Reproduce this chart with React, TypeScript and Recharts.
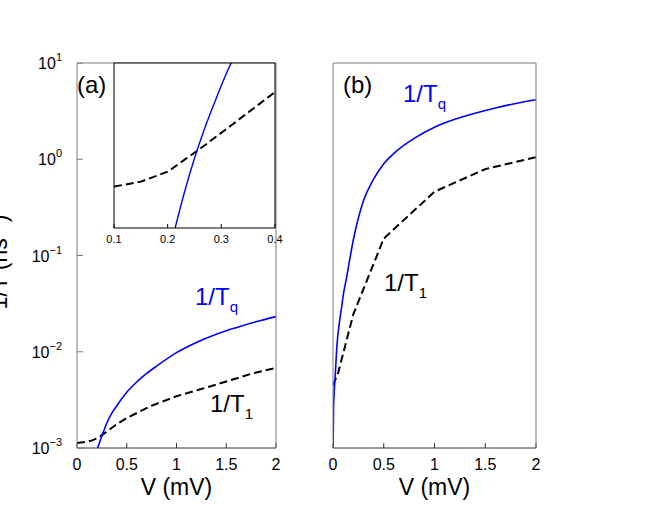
import React from "react";
import { LineChart, Line, XAxis, YAxis, CartesianGrid } from "recharts";

// panel (a): main, log scale
const aT1V = [0, 0.1, 0.15, 0.2, 0.25, 0.3, 0.4, 0.5, 0.75, 1.0, 1.25, 1.5, 1.75, 2.0];
const aT1 = [1.13e-3, 1.16e-3, 1.2e-3, 1.26e-3, 1.36e-3, 1.48e-3, 1.77e-3, 2.05e-3, 2.75e-3, 3.45e-3, 4.1e-3, 4.9e-3, 5.9e-3, 6.8e-3];
const aTqV = [0.2, 0.25, 0.3, 0.35, 0.4, 0.5, 0.6, 0.7, 0.8, 1.0, 1.2, 1.4, 1.6, 1.8, 2.0];
const aTq = [0.95e-3, 1.33e-3, 1.82e-3, 2.3e-3, 2.75e-3, 3.8e-3, 4.85e-3, 5.95e-3, 7.1e-3, 9.8e-3, 0.0125, 0.0152, 0.0178, 0.0205, 0.0232];

// inset of (a)
const insT1V = [0.1, 0.15, 0.2, 0.26, 0.32, 0.4];
const insT1 = [1.19e-3, 1.215e-3, 1.267e-3, 1.394e-3, 1.543e-3, 1.77e-3];
const insTqV = [0.2, 0.23, 0.25, 0.27, 0.29, 0.31, 0.33];
const insTq = [0.88e-3, 1.15e-3, 1.34e-3, 1.53e-3, 1.72e-3, 1.92e-3, 2.11e-3];

// panel (b)
const bT1V = [0, 0.05, 0.2, 0.5, 1.0, 1.5, 2.0];
const bT1 = [4.5e-3, 6.0e-3, 0.0245, 0.15, 0.46, 0.79, 1.05];
const bTqV = [0, 0.005, 0.01, 0.02, 0.04, 0.06, 0.085, 0.1, 0.135, 0.2, 0.3, 0.4, 0.5, 0.6, 0.7, 0.8, 1.0, 1.2, 1.4, 1.6, 1.8, 2.0];
const bTq = [0.0008, 0.0025, 0.0035, 0.0052, 0.012, 0.019, 0.029, 0.038, 0.06, 0.145, 0.37, 0.62, 0.9, 1.15, 1.4, 1.65, 2.15, 2.6, 3.0, 3.4, 3.8, 4.15];

const vTicks = [0, 0.5, 1, 1.5, 2];
const vInner = [0.5, 1, 1.5];
const insTicks = [0.1, 0.2, 0.3, 0.4];
const insInner = [0.2, 0.3];
const decades = [1e-3, 1e-2, 1e-1, 1, 10];
const decadeExp = ["\u22123", "\u22122", "\u22121", "0", "1"];
const minorTicks = [-3, -2, -1, 0].flatMap((e) => [2, 3, 4, 5, 6, 7, 8, 9].map((m) => m * Math.pow(10, e)));

const FONT = "'Liberation Sans', Arial, Helvetica, sans-serif";
const FRAME = "#7a7a7a";
const BLUE = "#0000ff";
const DASH = "8 4";
const LOG_DOMAIN: [number, number] = [1e-3, 10];

const pts = (xs: number[], ys: number[]) => xs.map((v, i) => ({ v, t: ys[i] }));

function DecadeTick(props: any) {
  const { x, y, payload } = props;
  const i = decades.findIndex((d) => Math.abs(d - payload.value) / d < 1e-6);
  return (
    <text x={x} y={y + 6} textAnchor="end" fontSize={16} fill="#000">
      10
      <tspan dy={-8} fontSize={11}>{decadeExp[i]}</tspan>
    </text>
  );
}

function PanelA() {
  return (
    <LineChart width={300} height={513} margin={{ top: 63, right: 24, bottom: 0, left: 0 }}>
      <XAxis
        xAxisId="b" dataKey="v" type="number" domain={[0, 2]} ticks={vTicks} interval={0}
        allowDataOverflow height={65} tickSize={-5} tickMargin={16} stroke="#333"
        tick={{ fontSize: 16, fill: "#000" }}
        label={{ value: "V (mV)", position: "insideBottom", offset: 18, fontSize: 23, fill: "#000" }}
      />
      <XAxis xAxisId="t" type="number" orientation="top" mirror height={10} domain={[0, 2]} ticks={vInner} interval={0} tick={false} tickSize={5} stroke={FRAME} />
      <YAxis
        yAxisId="L" scale="log" domain={LOG_DOMAIN} ticks={decades} interval={0} allowDataOverflow
        width={77} tickSize={-6} tickMargin={21} stroke={FRAME} tick={<DecadeTick />}
      />
      <YAxis yAxisId="Lm" scale="log" domain={LOG_DOMAIN} ticks={minorTicks} interval={0} allowDataOverflow mirror width={10} axisLine={false} tick={false} tickSize={3} stroke={FRAME} />
      <YAxis yAxisId="R" orientation="right" scale="log" domain={LOG_DOMAIN} ticks={decades} interval={0} allowDataOverflow mirror width={10} tick={false} tickSize={6} stroke={FRAME} />
      <YAxis yAxisId="Rm" orientation="right" scale="log" domain={LOG_DOMAIN} ticks={minorTicks} interval={0} allowDataOverflow mirror width={10} axisLine={false} tick={false} tickSize={3} stroke={FRAME} />
      <Line xAxisId="b" yAxisId="L" data={pts(aT1V, aT1)} dataKey="t" type="linear" stroke="#000" strokeWidth={2} strokeDasharray={DASH} dot={false} isAnimationActive={false} />
      <Line xAxisId="b" yAxisId="L" data={pts(aTqV, aTq)} dataKey="t" type="monotone" stroke={BLUE} strokeWidth={1.6} dot={false} isAnimationActive={false} />
    </LineChart>
  );
}

function Inset() {
  return (
    <LineChart width={190} height={200} margin={{ top: 8, right: 15, bottom: 0, left: 14 }}>
      <CartesianGrid xAxisId="b" yAxisId="L" fill="#fff" stroke="none" horizontal={false} vertical={false} />
      <XAxis
        xAxisId="b" dataKey="v" type="number" domain={[0.1, 0.4]} ticks={insTicks} interval={0}
        allowDataOverflow height={27} tickSize={-4} tickMargin={11} stroke="#000"
        tick={{ fontSize: 11, fill: "#000" }} tickFormatter={(v: number) => v.toFixed(1)}
      />
      <XAxis xAxisId="t" type="number" orientation="top" mirror height={10} domain={[0.1, 0.4]} ticks={insInner} interval={0} tick={false} tickSize={4} stroke="#000" />
      <YAxis yAxisId="L" scale="log" domain={[1e-3, 2e-3]} allowDataOverflow mirror width={10} tick={false} tickLine={false} stroke="#000" />
      <YAxis yAxisId="R" orientation="right" scale="log" domain={[1e-3, 2e-3]} allowDataOverflow mirror width={10} tick={false} tickLine={false} stroke="#000" />
      <Line xAxisId="b" yAxisId="L" data={pts(insT1V, insT1)} dataKey="t" type="linear" stroke="#000" strokeWidth={2} strokeDasharray={DASH} dot={false} isAnimationActive={false} />
      <Line xAxisId="b" yAxisId="L" data={pts(insTqV, insTq)} dataKey="t" type="monotone" stroke={BLUE} strokeWidth={1.4} dot={false} isAnimationActive={false} />
    </LineChart>
  );
}

function PanelB() {
  return (
    <LineChart width={364} height={513} margin={{ top: 63, right: 128, bottom: 0, left: 33 }}>
      <XAxis
        xAxisId="b" dataKey="v" type="number" domain={[0, 2]} ticks={vTicks} interval={0}
        allowDataOverflow height={65} tickSize={-5} tickMargin={16} stroke="#333"
        tick={{ fontSize: 16, fill: "#000" }}
        label={{ value: "V (mV)", position: "insideBottom", offset: 18, fontSize: 23, fill: "#000" }}
      />
      <XAxis xAxisId="t" type="number" orientation="top" mirror height={10} domain={[0, 2]} ticks={vInner} interval={0} tick={false} tickSize={5} stroke={FRAME} />
      <YAxis yAxisId="L" scale="log" domain={LOG_DOMAIN} ticks={decades} interval={0} allowDataOverflow mirror width={10} tick={false} tickSize={6} stroke={FRAME} />
      <YAxis yAxisId="Lm" scale="log" domain={LOG_DOMAIN} ticks={minorTicks} interval={0} allowDataOverflow mirror width={10} axisLine={false} tick={false} tickSize={3} stroke={FRAME} />
      <YAxis yAxisId="R" orientation="right" scale="log" domain={LOG_DOMAIN} ticks={decades} interval={0} allowDataOverflow mirror width={10} tick={false} tickSize={6} stroke={FRAME} />
      <YAxis yAxisId="Rm" orientation="right" scale="log" domain={LOG_DOMAIN} ticks={minorTicks} interval={0} allowDataOverflow mirror width={10} axisLine={false} tick={false} tickSize={3} stroke={FRAME} />
      <Line xAxisId="b" yAxisId="L" data={pts(bT1V, bT1)} dataKey="t" type="linear" stroke="#000" strokeWidth={2} strokeDasharray={DASH} dot={false} isAnimationActive={false} />
      <Line xAxisId="b" yAxisId="L" data={pts(bTqV, bTq)} dataKey="t" type="monotone" stroke={BLUE} strokeWidth={1.6} dot={false} isAnimationActive={false} />
    </LineChart>
  );
}

function Annotations() {
  return (
    <svg width={664} height={513} style={{ position: "absolute", left: 0, top: 0, pointerEvents: "none" }}>
      <text transform="translate(7, 262) rotate(-90)" textAnchor="middle" fontSize={23} fill="#000">
        1/T (ns<tspan dy={-8} fontSize={14}>{"\u22121"}</tspan><tspan dy={8}>)</tspan>
      </text>
      <text x={77} y={93} fontSize={24} fill="#000">(a)</text>
      <text x={343} y={93} fontSize={24} fill="#000">(b)</text>
      <text x={195} y={305} fontSize={24} fill={BLUE}>
        1/T<tspan dy={7} fontSize={15}>q</tspan>
      </text>
      <text x={210} y={412} fontSize={24} fill="#000">
        1/T<tspan dy={7} fontSize={15}>1</tspan>
      </text>
      <text x={403} y={102} fontSize={24} fill={BLUE}>
        1/T<tspan dy={7} fontSize={15}>q</tspan>
      </text>
      <text x={384} y={291} fontSize={24} fill="#000">
        1/T<tspan dy={7} fontSize={15}>1</tspan>
      </text>
    </svg>
  );
}

export default function App() {
  return (
    <div style={{ position: "absolute", left: 0, top: 0, width: 664, height: 513, background: "#fff", fontFamily: FONT, overflow: "hidden" }}>
      <div style={{ position: "absolute", left: 0, top: 0 }}>
        <PanelA />
      </div>
      <div style={{ position: "absolute", left: 100, top: 55 }}>
        <Inset />
      </div>
      <div style={{ position: "absolute", left: 300, top: 0 }}>
        <PanelB />
      </div>
      <Annotations />
    </div>
  );
}
